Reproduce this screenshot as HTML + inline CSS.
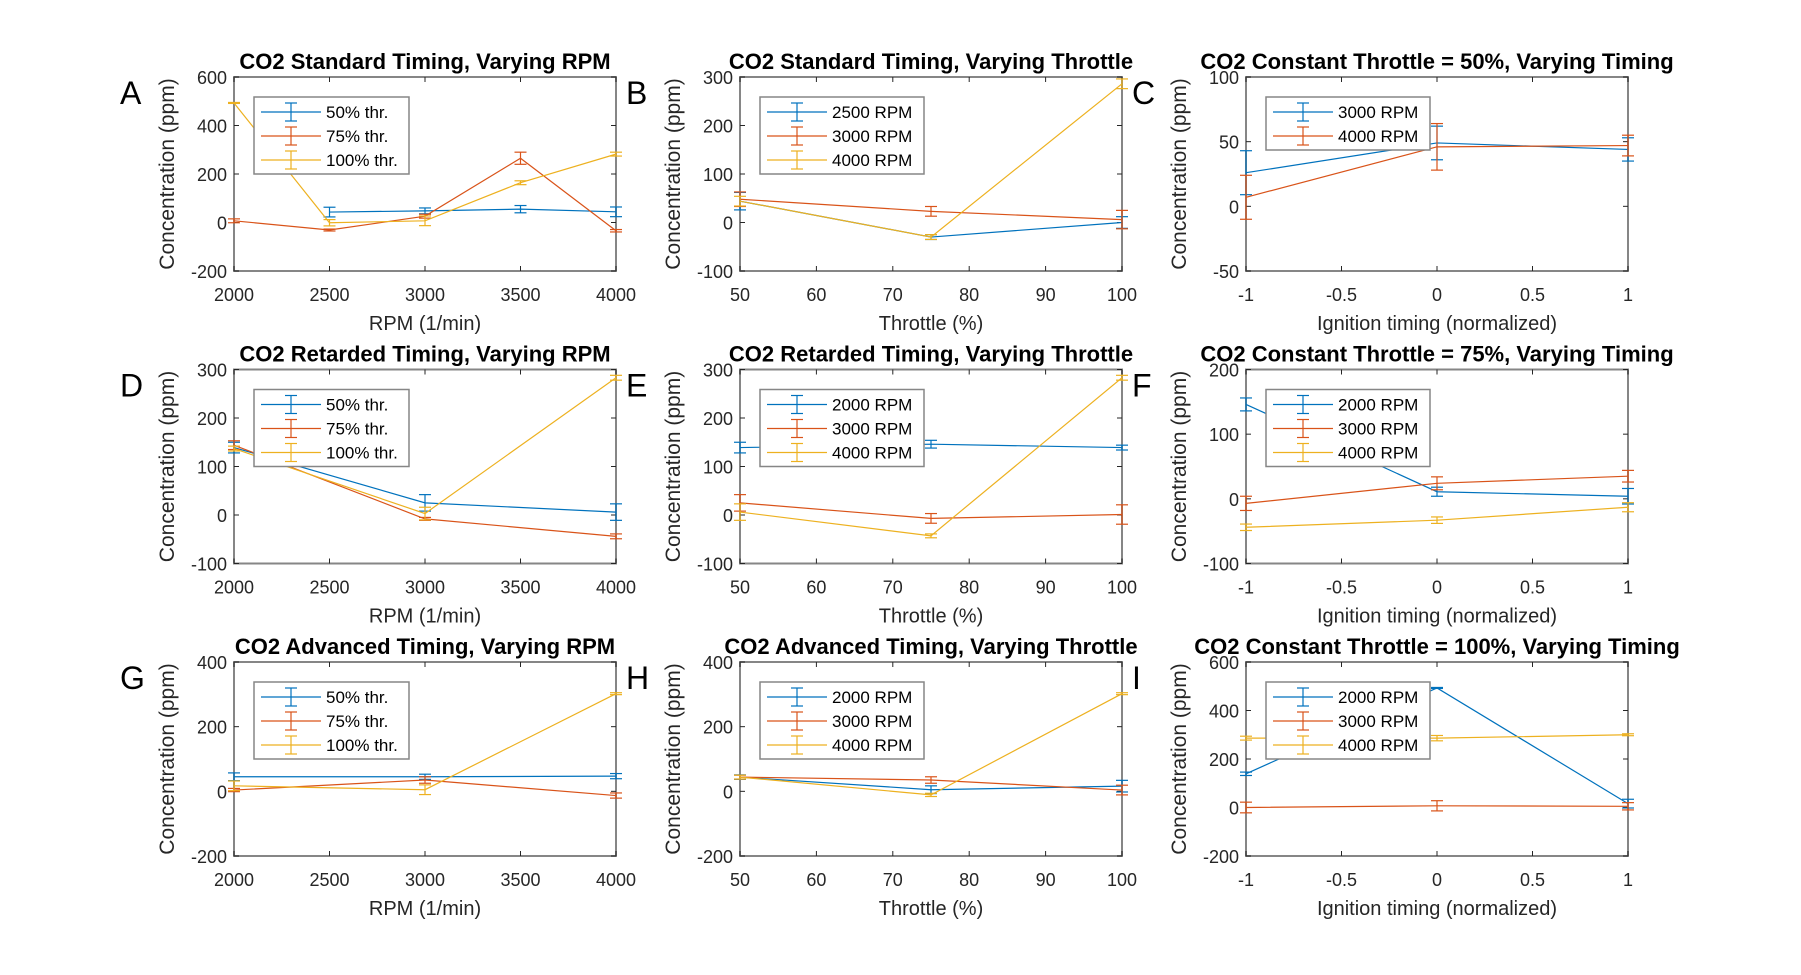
<!DOCTYPE html>
<html><head><meta charset="utf-8">
<style>
body{margin:0;background:#fff;}
svg{display:block;font-family:"Liberation Sans",sans-serif;}
</style></head>
<body>
<svg id="fig" width="1801" height="975" viewBox="0 0 1801 975"></svg>
<script>
// ---- Data ----
const rpmX=[2000,2500,3000,3500,4000];
const thrX=[50,75,100];
const timX=[-1,0,1];
// Panel A
const aS50=[null,43,48,55,44], aE50=[0,20,12,15,20];
const aS75=[7,-31,26,265,-34], aE75=[8,4,8,25,5];
const aS100=[493,-1,7,164,282], aE100=[2,13,20,8,8];
// Panel B
const bS2500=[44,-30,0], bE2500=[18,5,12];
const bS3000=[48,23,6], bE3000=[15,10,19];
const bS4000=[44,-30,286], bE4000=[10,5,10];
// Panel C
const cS3000=[26,49,44], cE3000=[17,13,9];
const cS4000=[7,46,47], cE4000=[17,18,8];
// Panel D
const dX=[2000,3000,4000];
const dS50=[139,25,6], dE50=[11,17,17];
const dS75=[144,-8,-44], dE75=[9,3,5];
const dS100=[137,3,283], dE100=[5,13,5];
// Panel E
const eS2000=[139,146,139], eE2000=[11,8,5];
const eS3000=[25,-7,1], eE3000=[17,10,20];
const eS4000=[6,-43,283], eE4000=[17,4,5];
// Panel F
const fS2000=[146,11,4], fE2000=[10,7,12];
const fS3000=[-7,24,35], fE3000=[11,10,9];
const fS4000=[-44,-33,-13], fE4000=[5,5,7];
// Panel G
const gS50=[45,45,47], gE50=[12,8,8];
const gS75=[4,35,-13], gE75=[5,10,8];
const gS100=[17,5,302], gE100=[15,15,3];
// Panel H
const hS2000=[44,5,16], hE2000=[7,12,18];
const hS3000=[44,35,4], hE3000=[6,10,15];
const hS4000=[44,-11,302], hE4000=[6,5,3];
// Panel I
const iS2000=[139,493,16], iE2000=[7,2,18];
const iS3000=[0,7,5], iE3000=[22,21,15];
const iS4000=[286,286,300], iE4000=[8,11,4];

const rpmTicks=[2000,2500,3000,3500,4000];
const thrTicks=[50,60,70,80,90,100];
const timTicks=[-1,-0.5,0,0.5,1];
const timTickLabels=['-1','-0.5','0','0.5','1'];

const C1='#0072BD',C2='#D95319',C3='#EDB120';
const NS='http://www.w3.org/2000/svg';
const svg=document.getElementById('fig');
function mk(tag,attrs,parent){const e=document.createElementNS(NS,tag);for(const k in attrs)e.setAttribute(k,attrs[k]);(parent||svg).appendChild(e);return e;}

const colL=[234,740,1246], rowT=[77,369.5,662], W=382, H=194;

function panel(o){
  const L=colL[o.col],T=rowT[o.row],R=L+W,B=T+H;
  const g=mk('g',{});
  
  
  const sx=v=>L+(v-o.xmin)/(o.xmax-o.xmin)*W;
  const sy=v=>B-(v-o.ymin)/(o.ymax-o.ymin)*H;
  const box=mk('rect',{x:L,y:T,width:W,height:H,fill:'#fff',stroke:'#868686','stroke-width':2},g);
  
  
  o.xt.forEach((v,i)=>{
    const x=sx(v);
    mk('line',{x1:x,y1:B,x2:x,y2:B-5,stroke:'#262626','stroke-width':1},g);
    mk('line',{x1:x,y1:T,x2:x,y2:T+5,stroke:'#262626','stroke-width':1},g);
    const t=mk('text',{x:x,y:B+30,'text-anchor':'middle','font-size':18,fill:'#262626'},g);
    t.textContent=o.xtl?o.xtl[i]:String(v);
    
    
  });
  o.yt.forEach(v=>{
    const y=sy(v);
    mk('line',{x1:L,y1:y,x2:L+5,y2:y,stroke:'#262626','stroke-width':1},g);
    mk('line',{x1:R,y1:y,x2:R-5,y2:y,stroke:'#262626','stroke-width':1},g);
    const t=mk('text',{x:L-7,y:y+7,'text-anchor':'end','font-size':18,fill:'#262626'},g);
    t.textContent=String(v);
    
    
  });
  const ti=mk('text',{x:L+W/2,y:T-8,'text-anchor':'middle','font-size':22,'font-weight':'bold',fill:'#000'},g);
  ti.textContent=o.title;
  
  
  const xl=mk('text',{x:L+W/2,y:B+59,'text-anchor':'middle','font-size':20,fill:'#262626'},g);
  xl.textContent=o.xlabel;
  
  
  const yl=mk('text',{x:0,y:0,'text-anchor':'middle','font-size':21,fill:'#262626',transform:`translate(${L-60},${T+H/2}) rotate(-90)`},g);
  yl.textContent='Concentration (ppm)';
  
  
  const lt=mk('text',{x:L-114,y:T+27,'font-size':32,fill:'#000'},g);
  lt.textContent=o.letter;
  
  
  const cols=[C1,C2,C3];
  o.series.forEach((s,si)=>{
    const sg=mk('g',{},g);
    
    
    const pts=[];
    s.y.forEach((v,i)=>{ if(v!==null) pts.push([sx(o.x[i]),sy(v),sy(v+s.e[i]),sy(v-s.e[i])]); });
    mk('polyline',{points:pts.map(p=>p[0]+','+p[1]).join(' '),fill:'none',stroke:cols[si],'stroke-width':1.2},sg);
    pts.forEach(p=>{
      mk('line',{x1:p[0],y1:p[2],x2:p[0],y2:p[3],stroke:cols[si],'stroke-width':1.2},sg);
      mk('line',{x1:p[0]-6,y1:p[2],x2:p[0]+6,y2:p[2],stroke:cols[si],'stroke-width':1.2},sg);
      mk('line',{x1:p[0]-6,y1:p[3],x2:p[0]+6,y2:p[3],stroke:cols[si],'stroke-width':1.2},sg);
    });
  });
  const n=o.series.length, lw=o.legW, lh=n===3?77:53;
  const lx=L+20, ly=T+20;
  const lg=mk('g',{},g);
  
  
  mk('rect',{x:lx,y:ly,width:lw,height:lh,fill:'#fff',stroke:'#868686','stroke-width':1.5},lg);
  o.series.forEach((s,si)=>{
    const yy=ly+15+si*24;
    const eg=mk('g',{},lg);
    
    
    mk('line',{x1:lx+7,y1:yy,x2:lx+67,y2:yy,stroke:cols[si],'stroke-width':1.2},eg);
    mk('line',{x1:lx+37,y1:yy-9,x2:lx+37,y2:yy+9,stroke:cols[si],'stroke-width':1.2},eg);
    mk('line',{x1:lx+31,y1:yy-9,x2:lx+43,y2:yy-9,stroke:cols[si],'stroke-width':1.2},eg);
    mk('line',{x1:lx+31,y1:yy+9,x2:lx+43,y2:yy+9,stroke:cols[si],'stroke-width':1.2},eg);
    const t=mk('text',{x:lx+72,y:yy+6,'font-size':17,fill:'#000'},eg);
    t.textContent=s.name;
  });
}
const thrNames=['50% thr.','75% thr.','100% thr.'];
panel({col:0,row:0,letter:'A',title:'CO2 Standard Timing, Varying RPM',xlabel:'RPM (1/min)',x:rpmX,xmin:2000,xmax:4000,ymin:-200,ymax:600,xt:rpmTicks,yt:[-200,0,200,400,600],legW:155,
  series:[{name:thrNames[0],y:aS50,e:aE50},{name:thrNames[1],y:aS75,e:aE75},{name:thrNames[2],y:aS100,e:aE100}]});
panel({col:1,row:0,letter:'B',title:'CO2 Standard Timing, Varying Throttle',xlabel:'Throttle (%)',x:thrX,xmin:50,xmax:100,ymin:-100,ymax:300,xt:thrTicks,yt:[-100,0,100,200,300],legW:164,
  series:[{name:'2500 RPM',y:bS2500,e:bE2500},{name:'3000 RPM',y:bS3000,e:bE3000},{name:'4000 RPM',y:bS4000,e:bE4000}]});
panel({col:2,row:0,letter:'C',title:'CO2 Constant Throttle = 50%, Varying Timing',xlabel:'Ignition timing (normalized)',x:timX,xmin:-1,xmax:1,ymin:-50,ymax:100,xt:timTicks,xtl:timTickLabels,yt:[-50,0,50,100],legW:164,
  series:[{name:'3000 RPM',y:cS3000,e:cE3000},{name:'4000 RPM',y:cS4000,e:cE4000}]});
panel({col:0,row:1,letter:'D',title:'CO2 Retarded Timing, Varying RPM',xlabel:'RPM (1/min)',x:dX,xmin:2000,xmax:4000,ymin:-100,ymax:300,xt:rpmTicks,yt:[-100,0,100,200,300],legW:155,
  series:[{name:thrNames[0],y:dS50,e:dE50},{name:thrNames[1],y:dS75,e:dE75},{name:thrNames[2],y:dS100,e:dE100}]});
panel({col:1,row:1,letter:'E',title:'CO2 Retarded Timing, Varying Throttle',xlabel:'Throttle (%)',x:thrX,xmin:50,xmax:100,ymin:-100,ymax:300,xt:thrTicks,yt:[-100,0,100,200,300],legW:164,
  series:[{name:'2000 RPM',y:eS2000,e:eE2000},{name:'3000 RPM',y:eS3000,e:eE3000},{name:'4000 RPM',y:eS4000,e:eE4000}]});
panel({col:2,row:1,letter:'F',title:'CO2 Constant Throttle = 75%, Varying Timing',xlabel:'Ignition timing (normalized)',x:timX,xmin:-1,xmax:1,ymin:-100,ymax:200,xt:timTicks,xtl:timTickLabels,yt:[-100,0,100,200],legW:164,
  series:[{name:'2000 RPM',y:fS2000,e:fE2000},{name:'3000 RPM',y:fS3000,e:fE3000},{name:'4000 RPM',y:fS4000,e:fE4000}]});
panel({col:0,row:2,letter:'G',title:'CO2 Advanced Timing, Varying RPM',xlabel:'RPM (1/min)',x:dX,xmin:2000,xmax:4000,ymin:-200,ymax:400,xt:rpmTicks,yt:[-200,0,200,400],legW:155,
  series:[{name:thrNames[0],y:gS50,e:gE50},{name:thrNames[1],y:gS75,e:gE75},{name:thrNames[2],y:gS100,e:gE100}]});
panel({col:1,row:2,letter:'H',title:'CO2 Advanced Timing, Varying Throttle',xlabel:'Throttle (%)',x:thrX,xmin:50,xmax:100,ymin:-200,ymax:400,xt:thrTicks,yt:[-200,0,200,400],legW:164,
  series:[{name:'2000 RPM',y:hS2000,e:hE2000},{name:'3000 RPM',y:hS3000,e:hE3000},{name:'4000 RPM',y:hS4000,e:hE4000}]});
panel({col:2,row:2,letter:'I',title:'CO2 Constant Throttle = 100%, Varying Timing',xlabel:'Ignition timing (normalized)',x:timX,xmin:-1,xmax:1,ymin:-200,ymax:600,xt:timTicks,xtl:timTickLabels,yt:[-200,0,200,400,600],legW:164,
  series:[{name:'2000 RPM',y:iS2000,e:iE2000},{name:'3000 RPM',y:iS3000,e:iE3000},{name:'4000 RPM',y:iS4000,e:iE4000}]});
</script>
</body></html>
